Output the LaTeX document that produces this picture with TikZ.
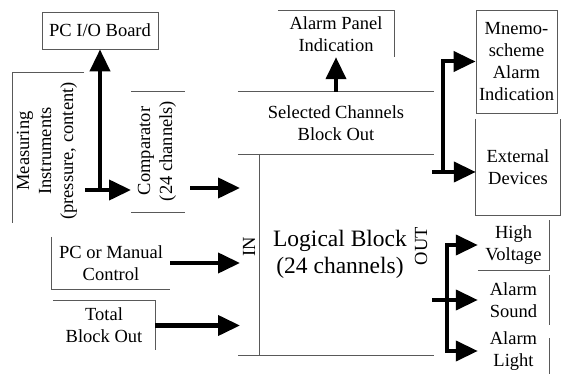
\documentclass[tikz,border=0pt]{standalone}
\usepackage{fontspec}
\setmainfont{Liberation Serif}
\usetikzlibrary{arrows.meta}

\tikzset{
    txt/.style={align=center, inner sep=0pt, font=\fontsize{18.5}{22}\selectfont},
    big/.style={align=center, inner sep=0pt, font=\fontsize{23.5}{27}\selectfont},
    frame/.style={black!65, line width=0.8pt},
    flow/.style={line width=4pt, -{Triangle[length=22pt,width=20pt]}},
    bus/.style={line width=4pt}
}

\begin{document}
\begin{tikzpicture}[x=1pt,y=-1pt]
    \useasboundingbox (0,0) rectangle (568,374);

    % Blocks
    \node[txt, draw=black!65, line width=0.8pt, minimum width=116pt, minimum height=37pt] (pcio) at (100,30.5) {PC I/O Board};
    \node[txt, rotate=90] (meas) at (47,151) {Measuring\\Instruments\\(pressure, content)};
    \node[txt, rotate=90] (comp) at (157,151) {Comparator\\(24 channels)};
    \node[txt, minimum width=116pt, minimum height=46pt] (apanel) at (336,34) {Alarm Panel\\Indication};
    \node[txt, minimum width=196pt, minimum height=62pt] (sel) at (336,123) {Selected Channels\\Block Out};
    \node[big] (logic) at (340,254) {Logical Block\\(24 channels)};
    \node[txt, rotate=90] (inlbl) at (249,247) {IN};
    \node[txt, rotate=90] (outlbl) at (421,246) {OUT};
    \node[txt, minimum width=118pt, minimum height=52pt] (pcman) at (111,263) {PC or Manual\\Control};
    \node[txt, minimum width=102pt, minimum height=49pt] (total) at (104,325.5) {Total\\Block Out};
    \node[txt, draw=black!65, line width=0.8pt, minimum width=81pt, minimum height=103pt] (mnemo) at (516.5,61.5) {Mnemo-\\scheme\\Alarm\\Indication};
    \node[txt, minimum width=84pt, minimum height=96pt] (ext) at (518,167) {External\\Devices};
    \node[txt, minimum width=71pt, minimum height=50pt] (hv) at (513.5,245) {High\\Voltage};
    \node[txt, minimum width=71pt, minimum height=50pt] (asound) at (513.5,300) {Alarm\\Sound};
    \node[txt, minimum width=71pt] (alight) at (513.5,351) {Alarm\\Light};

    % Frames (partly faded)
    \draw[frame] (84,72) -- (12,72) -- (12,223);
    \draw[frame] (131,91) -- (185,91);
    \draw[frame] (131,212) -- (185,212);
    \draw[frame] (apanel.north west) -- (apanel.north east) -- (apanel.south east);
    \draw[frame] (sel.north west) -- (sel.north east);
    \draw[frame] (sel.south west) -- (sel.south east);
    \draw[frame] (259,154) -- (259,355);
    \draw[frame] (238,355) -- (434,355);
    \draw[frame] (pcman.north west) -- (pcman.south west) -- (pcman.south east);
    \draw[frame] (total.north west) -- (total.north east) -- (total.south east);
    \draw[frame] (ext.north west) -- (ext.south west) -- (ext.south east) -- (ext.north east);
    \draw[frame] (hv.south west) -- (hv.south east) -- (hv.north east);
    \draw[frame] (asound.north east) -- (asound.south east);
    \draw[frame] (549,338) -- (549,374);

    % Connectors
    \coordinate (measout) at (85,190);
    \coordinate (split) at (100,190);
    \coordinate (compin) at (131,190);
    \coordinate (compout) at (190,188);
    \coordinate (in1) at (240,188);
    \coordinate (in2) at (240,263);
    \coordinate (in3) at (240,325.5);
    \coordinate (selout) at (432,172);
    \coordinate (rbus) at (443,172);
    \coordinate (logout) at (432,300);
    \coordinate (obus) at (447,300);

    \draw[flow] (measout) -- (compin);
    \draw[flow] (split) -- (pcio.south);
    \draw[flow] (compout) -- (in1);
    \draw[flow] (pcman.east) -- (in2);
    \draw[flow] (total.east) -- (in3);
    \draw[flow] (sel.north) -- (apanel.south);

    \draw[bus] (selout) -- (rbus);
    \draw[flow] (rbus) |- (mnemo.west);
    \draw[flow] (rbus) -- (ext.west |- rbus);

    \draw[flow] (logout) -- (asound.west |- logout);
    \foreach \dest in {hv, alight} {
        \draw[flow] (obus) |- (\dest.west);
    }
\end{tikzpicture}
\end{document}
